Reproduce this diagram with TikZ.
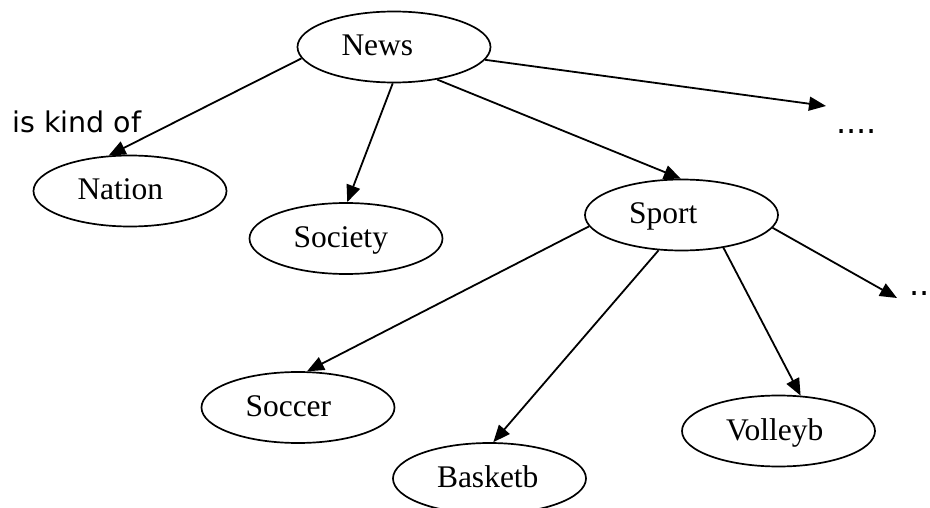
\documentclass[tikz,border=0pt]{standalone}
\usepackage{fontspec}
\setmainfont{Liberation Serif}
\newfontfamily\labelfont{DejaVu Sans}
\usetikzlibrary{arrows.meta,shapes.geometric}
% text inside a bubble starts at a fixed distance from its left edge
\newcommand\bubbletext[1]{\makebox[105pt][l]{#1}}
\begin{document}
\begin{tikzpicture}[x=1pt,y=-1pt,
  bubble/.style={draw, line width=1.7pt, ellipse, minimum width=193pt,
    minimum height=71pt, inner sep=0pt, text height=21pt, text depth=3pt,
    font=\fontsize{31.5pt}{36pt}\selectfont},
  link/.style={draw, line width=1.8pt, -{Triangle[length=17pt,width=14pt]}},
  sans/.style={font=\labelfont\fontsize{28.5pt}{34pt}\selectfont,
    inner sep=0pt, anchor=base west},
  dotsfont/.style={font=\labelfont\fontsize{32pt}{36pt}\selectfont,
    inner sep=0pt, anchor=base west}]
\useasboundingbox[fill=white] (0,0) rectangle (930,508);

% categories
\node[bubble] (news)    at (394,47)      {\bubbletext{News}};
\node[bubble] (nation)  at (130,191)     {\bubbletext{Nation}};
\node[bubble] (society) at (346,238.5)   {\bubbletext{Society}};
\node[bubble] (sport)   at (681.5,215)   {\bubbletext{Sport}};
\node[bubble] (soccer)  at (298,407.5)   {\bubbletext{Soccer}};
\node[bubble] (basketb) at (489.5,478.5) {\bubbletext{Basketb}};
\node[bubble] (volleyb) at (778.5,431)   {\bubbletext{Volleyb}};

% relation label and open-ended branches
\node[sans] (kind) at (12,133) {is kind of};
\node[dotsfont] (more1) at (836,134) {....};
\node[dotsfont] (more2) at (909,295) {..};
\coordinate (tip1) at (826,106);
\coordinate (tip2) at (897,298);

% hierarchy links
\draw[link] (news.187.7)  -- (nation.121.4);
\draw[link] (news.268.5)  -- (society.88.5);
\draw[link] (news.323.1)  -- (sport.91.5);
\draw[link] (news.352.9)  -- (tip1);
\draw[link] (sport.187.2) -- (soccer.76.7);
\draw[link] (sport.237.6) -- (basketb.84.6);
\draw[link] (sport.322.7) -- (volleyb.58.7);
\draw[link] (sport.352.9) -- (tip2);
\end{tikzpicture}
\end{document}
